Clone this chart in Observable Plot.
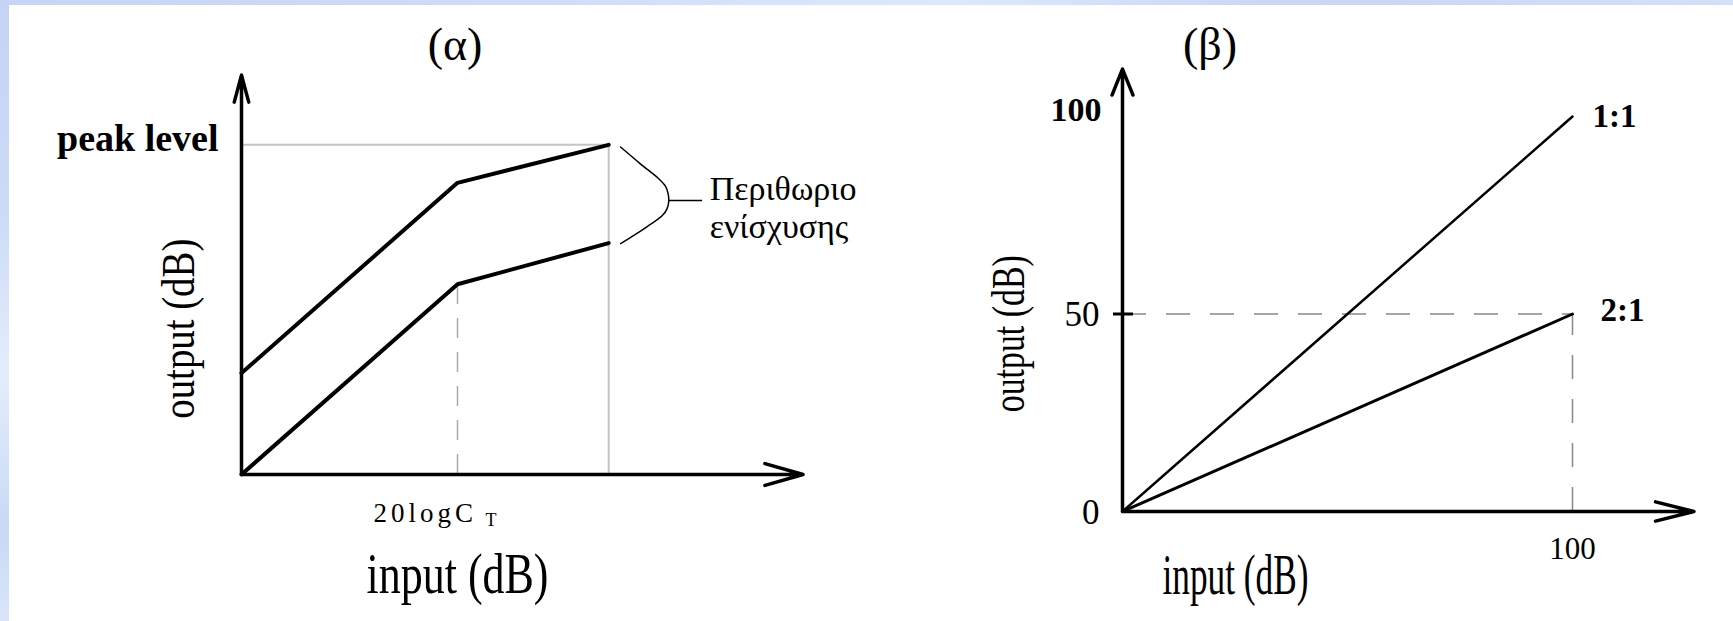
<!DOCTYPE html>
<html>
<head>
<meta charset="utf-8">
<script src="https://cdn.jsdelivr.net/npm/d3@7"></script>
<script src="https://cdn.jsdelivr.net/npm/@observablehq/plot@0.6"></script>
<style>
  html, body { margin: 0; padding: 0; background: #fff; }
  #figure {
    position: relative; width: 1733px; height: 621px; overflow: hidden; background: #fff;
    font-family: "Liberation Serif", "Times New Roman", serif; color: #000;
  }
  .strip-top {
    position: absolute; left: 0; top: 0; width: 1733px; height: 5px;
    background: linear-gradient(to right, #c6d5f5 0%, #cfdcf8 30%, #dbe8fc 55%, #c9d6f4 75%, #d3e0f8 100%);
  }
  .strip-left {
    position: absolute; left: 0; top: 0; width: 9px; height: 621px;
    background: linear-gradient(to bottom, #c5d4f5 0%, #cddbf8 35%, #e2eefc 60%, #c9d8f6 85%, #d8e5f9 100%);
  }
  .panel { position: absolute; top: 0; }
  .panel-title { position: relative; height: 62px; }
  .panel-title span {
    position: absolute; top: 22px; font-size: 46px; line-height: 46px;
    transform: translateX(-50%); white-space: nowrap;
  }
  .panel svg { display: block; overflow: visible; }
</style>
</head>
<body>
<div id="figure">
  <div class="strip-top"></div>
  <div class="strip-left"></div>
  <div class="panel" id="panel-a" style="left:0;width:866px;">
    <div class="panel-title"><span style="left:455px;">(α)</span></div>
  </div>
  <div class="panel" id="panel-b" style="left:866px;width:867px;">
    <div class="panel-title"><span style="left:344px;">(β)</span></div>
  </div>
</div>
<script>
// ---------- (α) compressor with make-up gain (dB, arbitrary units) ----------
const alphaInput = [0, 60, 102];      // input level at start, threshold, input limit
const alphaLower = [0, 60, 73];       // output without gain
const alphaUpper = [32, 92, 104];     // output with gain, reaching the peak level
const threshold = 60;                 // 20logC_T
const peakLevel = 104;
const inputLimit = 102;
const alphaXMax = 156;                // axis arrow ends
const alphaYMax = 126;
// brace joining the two curve ends ("gain margin")
const braceIn  = [105.3, 110.8, 115.9, 117.8, 118.5, 118.7, 118.2, 116.9, 112.7, 109.0, 105.3];
const braceOut = [103.3, 98.0, 93.3, 90.9, 88.6, 86.4, 83.8, 81.7, 78.2, 75.4, 72.8];
const braceStubEnd = 128.1;

// ---------- (β) compression ratios ----------
const betaInput = [0, 100];
const betaOut11 = [0, 100];           // 1:1
const betaOut21 = [0, 50];            // 2:1
const betaYTicks = [0, 50, 100];
const betaXTicks = [100];
const betaXMax = 127;
const betaYMax = 112;

const serif = "'Liberation Serif', 'Times New Roman', serif";
const pt = (x, y, label) => ({x, y, label});

function drawAlpha() {
  const rows = alphaInput.flatMap((x, i) => [
    {curve: "lower", input: x, output: alphaLower[i]},
    {curve: "upper", input: x, output: alphaUpper[i]}
  ]);
  const brace = braceIn.map((x, i) => ({input: x, output: braceOut[i]}));
  return Plot.plot({
    width: 866, height: 559,
    x: {domain: [0, alphaXMax], range: [241, 241 + alphaXMax * 3.6], axis: null},
    y: {domain: [0, alphaYMax], range: [412, 412 - alphaYMax * 3.17], axis: null},
    style: {fontFamily: serif, background: "transparent", color: "#000"},
    marks: [
      Plot.ruleY([peakLevel], {x1: 0, x2: inputLimit, stroke: "#c4c4c4", strokeWidth: 2}),
      Plot.ruleX([inputLimit], {y1: 0, y2: peakLevel, stroke: "#c4c4c4", strokeWidth: 2}),
      Plot.ruleX([threshold], {y1: 0, y2: alphaLower[1], stroke: "#aaaaaa", strokeWidth: 1.5, strokeDasharray: "20,14"}),
      Plot.line(rows, {x: "input", y: "output", z: "curve", stroke: "#000", strokeWidth: 4}),
      Plot.line(brace, {x: "input", y: "output", curve: "catmull-rom", stroke: "#000", strokeWidth: 1.5}),
      Plot.ruleY([braceOut[5]], {x1: braceIn[5], x2: braceStubEnd, stroke: "#000", strokeWidth: 1.5}),
      Plot.arrow([{x1: 0, y1: 0, x2: alphaXMax, y2: 0}], {x1: "x1", y1: "y1", x2: "x2", y2: "y2", stroke: "#000", strokeWidth: 3.5, headLength: 17, headAngle: 32}),
      Plot.arrow([{x1: 0, y1: 0, x2: 0, y2: alphaYMax}], {x1: "x1", y1: "y1", x2: "x2", y2: "y2", stroke: "#000", strokeWidth: 3.5, headLength: 12, headAngle: 30}),
      Plot.text([pt(0, peakLevel, "peak level")], {x: "x", y: "y", text: "label", textAnchor: "end", dx: -23, dy: -6, fontSize: 38, fontWeight: "bold"}),
      Plot.text([pt(threshold, 0, "20logC")], {x: "x", y: "y", text: "label", textAnchor: "start", dx: -84, dy: 39, fontSize: 27}),
      Plot.text([pt(threshold, 0, "T")], {x: "x", y: "y", text: "label", textAnchor: "start", dx: 28, dy: 46, fontSize: 18}),
      Plot.text([pt(threshold, 0, "input (dB)")], {x: "x", y: "y", text: "label", dy: 101, fontSize: 56}),
      Plot.text([pt(0, 46, "output (dB)")], {x: "x", y: "y", text: "label", rotate: -90, dx: -62, fontSize: 46}),
      Plot.text([pt(braceStubEnd, braceOut[5], "Περιθωριο\nενίσχυσης")], {x: "x", y: "y", text: "label", textAnchor: "start", dx: 7, dy: 6, fontSize: 34, lineHeight: 1.12})
    ]
  });
}

function drawBeta() {
  const rows = betaInput.flatMap((x, i) => [
    {ratio: "1:1", input: x, output: betaOut11[i]},
    {ratio: "2:1", input: x, output: betaOut21[i]}
  ]);
  return Plot.plot({
    width: 867, height: 559,
    x: {domain: [0, betaXMax], range: [256, 256 + betaXMax * 4.5], axis: null},
    y: {domain: [0, betaYMax], range: [449, 449 - betaYMax * 3.95], axis: null},
    style: {fontFamily: serif, background: "transparent", color: "#000"},
    marks: [
      Plot.ruleY([betaOut21[1]], {x1: 0, x2: betaInput[1], stroke: "#888", strokeWidth: 1.5, strokeDasharray: "24,20"}),
      Plot.ruleX([betaInput[1]], {y1: 0, y2: betaOut21[1], stroke: "#888", strokeWidth: 1.5, strokeDasharray: "24,20"}),
      Plot.line(rows.filter(d => d.ratio === "1:1"), {x: "input", y: "output", stroke: "#000", strokeWidth: 2.5}),
      Plot.line(rows.filter(d => d.ratio === "2:1"), {x: "input", y: "output", stroke: "#000", strokeWidth: 3}),
      Plot.arrow([{x1: 0, y1: 0, x2: betaXMax, y2: 0}], {x1: "x1", y1: "y1", x2: "x2", y2: "y2", stroke: "#000", strokeWidth: 3.5, headLength: 17, headAngle: 28}),
      Plot.arrow([{x1: 0, y1: 0, x2: 0, y2: betaYMax}], {x1: "x1", y1: "y1", x2: "x2", y2: "y2", stroke: "#000", strokeWidth: 3.5, headLength: 12, headAngle: 44}),
      Plot.ruleY([50], {x1: 0, x2: 0, insetLeft: -9, insetRight: -11, stroke: "#000", strokeWidth: 3}),
      Plot.text(betaYTicks.filter(d => d !== 100), {x: 0, y: d => d, text: d => String(d), textAnchor: "end", dx: -23, dy: 1, fontSize: 35}),
      Plot.text(betaYTicks.filter(d => d === 100), {x: 0, y: d => d, text: d => String(d), textAnchor: "end", dx: -21, dy: -6, fontSize: 34, fontWeight: "bold"}),
      Plot.text(betaXTicks, {x: d => d, y: 0, text: d => String(d), dy: 38, fontSize: 31}),
      Plot.text([pt(100, 100, "1:1")], {x: "x", y: "y", text: "label", textAnchor: "start", dx: 20, fontSize: 33, fontWeight: "bold"}),
      Plot.text([pt(100, 50, "2:1")], {x: "x", y: "y", text: "label", textAnchor: "start", dx: 28, dy: -4, fontSize: 33, fontWeight: "bold"}),
      Plot.text([pt(25.1, 0, "input (dB)")], {x: "x", y: "y", text: "label", dy: 65, fontSize: 56}),
      Plot.text([pt(0, 45, "output (dB)")], {x: "x", y: "y", text: "label", rotate: -90, dx: -113, fontSize: 46})
    ]
  });
}

document.getElementById("panel-a").appendChild(drawAlpha());
document.getElementById("panel-b").appendChild(drawBeta());

// typographic touches: spaced-out threshold label, tall condensed axis titles
const titleWidths = new Map([
  ["a:input (dB)", 182], ["a:output (dB)", 180],
  ["b:input (dB)", 146], ["b:output (dB)", 157]
]);
for (const [id, key] of [["panel-a", "a"], ["panel-b", "b"]]) {
  d3.select("#" + id).selectAll("svg text").each(function () {
    const t = this.textContent;
    if (t === "20logC") d3.select(this).attr("letter-spacing", 4);
    const w = titleWidths.get(key + ":" + t);
    if (w) d3.select(this).attr("textLength", w).attr("lengthAdjust", "spacingAndGlyphs");
  });
}
</script>
</body>
</html>
